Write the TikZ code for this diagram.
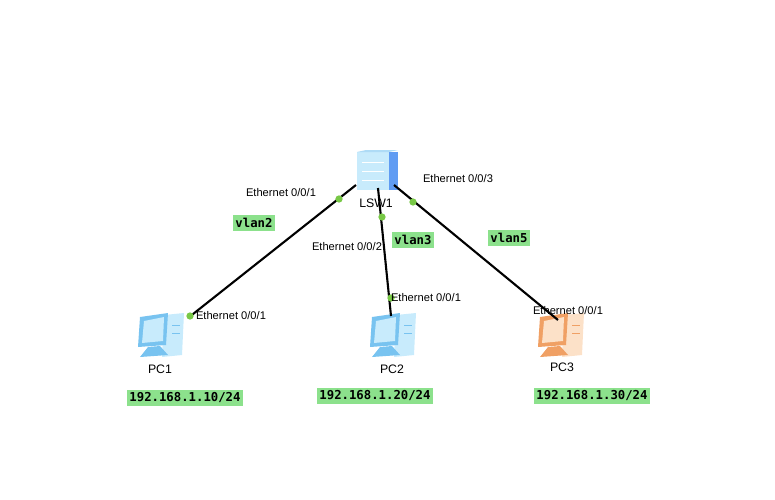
\documentclass[tikz,border=0pt]{standalone}
\usepackage{fontspec}
\setmainfont{Liberation Sans}
\setmonofont{DejaVu Sans Mono}
\usetikzlibrary{calc, positioning}
\definecolor{tagGreen}{RGB}{140,225,140}
\definecolor{dotGreen}{RGB}{120,200,70}
\definecolor{pcBlue}{RGB}{120,195,240}
\definecolor{pcLight}{RGB}{200,235,252}
\definecolor{pcOrange}{RGB}{240,160,100}
\definecolor{pcPeach}{RGB}{252,225,200}

\tikzset{
  port/.style={font=\fontsize{9.5}{10}\selectfont, inner sep=1pt},
  devname/.style={font=\fontsize{10.5}{11}\selectfont, inner sep=1pt},
  tag/.style={fill=tagGreen, font=\ttfamily\bfseries\fontsize{10.5}{11}\selectfont, inner sep=2.5pt},
  link/.style={line width=1.8pt, black},
  dot/.style={circle, fill=dotGreen, inner sep=2.2pt}
}

% a PC icon at a point, with given dark/light colours
\newcommand{\pcicon}[3]{%
  \fill[#3] ($(#1)+(4,-22)$) -- ($(#1)+(24,-24)$) -- ($(#1)+(22,18)$) -- ($(#1)+(2,20)$) -- cycle;
  \draw[#2, thick] ($(#1)+(12,-12)$) -- ($(#1)+(20,-12)$) ($(#1)+(12,-4)$) -- ($(#1)+(20,-4)$);
  \fill[#2] ($(#1)+(-20,-20)$) -- ($(#1)+(8,-24)$) -- ($(#1)+(6,8)$) -- ($(#1)+(-22,10)$) -- cycle;
  \fill[#3] ($(#1)+(-16,-16)$) -- ($(#1)+(4,-20)$) -- ($(#1)+(3,4)$) -- ($(#1)+(-18,6)$) -- cycle;
  \fill[#2] ($(#1)+(-12,10)$) -- ($(#1)+(0,9)$) -- ($(#1)+(8,18)$) -- ($(#1)+(-20,20)$) -- cycle;
}

\begin{document}
\begin{tikzpicture}[x=0.03cm, y=-0.03cm]
  \useasboundingbox (0,0) rectangle (775,500);

  % Devices
  \coordinate (sw) at (377,172);
  \fill[pcBlue!80!blue] (389,152) rectangle (398,190);
  \fill[pcLight] (357,152) rectangle (389,190);
  \draw[white, thick] (362,162) -- (384,162) (362,171) -- (384,171) (362,180) -- (384,180);
  \fill[pcBlue!60] (357,152) -- (389,152) -- (398,150) -- (366,150) -- cycle;
  \coordinate (pc1) at (160,337);
  \coordinate (pc2) at (392,337);
  \coordinate (pc3) at (560,337);
  \pcicon{pc1}{pcBlue}{pcLight}
  \pcicon{pc2}{pcBlue}{pcLight}
  \pcicon{pc3}{pcOrange}{pcPeach}

  % Names
  \node[devname] (lsw1) at (376,203) {LSW1};
  \node[devname] (n1) at (160,369) {PC1};
  \node[devname] (n2) at (392,369) {PC2};
  \node[devname] (n3) at (562,367) {PC3};

  % Links
  \coordinate (sw1) at (356,185);
  \coordinate (sw2) at (378,188);
  \coordinate (sw3) at (394,185);
  \coordinate (e1) at (188,318);
  \coordinate (e2) at (391,316);
  \coordinate (e3) at (558,320);
  \draw[link] (sw1) -- (e1);
  \draw[link] (sw2) -- (e2);
  \draw[link] (sw3) -- (e3);
  \node[dot] at (339,199) {};
  \node[dot] at (382,217) {};
  \node[dot] at (413,202) {};
  \node[dot] at (190,316) {};
  \node[dot] at (391,298) {};

  % Port labels
  \node[port] at (281,193) {Ethernet 0/0/1};
  \node[port] at (458,179) {Ethernet 0/0/3};
  \node[port] at (347,247) {Ethernet 0/0/2};
  \node[port] at (231,316) {Ethernet 0/0/1};
  \node[port] at (426,298) {Ethernet 0/0/1};
  \node[port] at (568,311) {Ethernet 0/0/1};

  % Tags
  \node[tag] (v2) at (254,223) {vlan2};
  \node[tag] (v3) at (413,240) {vlan3};
  \node[tag] (v5) at (509,238) {vlan5};
  \node[tag] (ip1) at (185,398) {192.168.1.10/24};
  \node[tag] (ip2) at (375,396) {192.168.1.20/24};
  \node[tag] (ip3) at (592,396) {192.168.1.30/24};
\end{tikzpicture}
\end{document}
